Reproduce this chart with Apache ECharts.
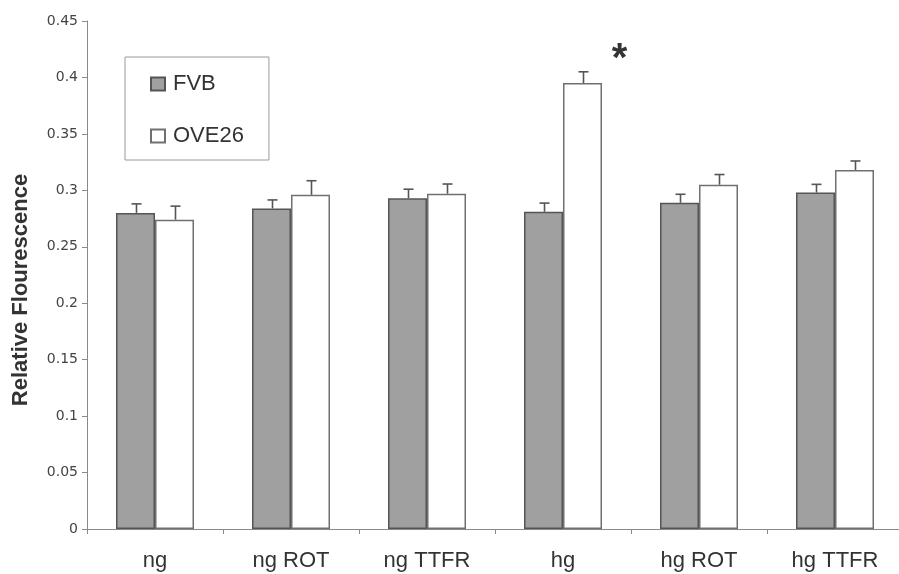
<!DOCTYPE html>
<html>
<head>
<meta charset="utf-8">
<script src="https://cdn.jsdelivr.net/npm/echarts@6/dist/echarts.min.js"></script>
<style>
  html, body { margin: 0; padding: 0; background: #fff; overflow: hidden; }
  #chart { width: 904px; height: 574px; }
</style>
</head>
<body>
<div id="chart"></div>
<script>
// Treatment groups on the x axis
const categories = ['ng', 'ng ROT', 'ng TTFR', 'hg', 'hg ROT', 'hg TTFR'];

// Mean relative fluorescence per group
const fvbMean   = [0.280, 0.284, 0.293, 0.281, 0.289, 0.298];
const ove26Mean = [0.274, 0.296, 0.297, 0.395, 0.305, 0.318];

// Upper error (SEM) per group
const fvbErr   = [0.008, 0.0075, 0.008, 0.0077, 0.0075, 0.0073];
const ove26Err = [0.012, 0.0125, 0.0086, 0.010, 0.009, 0.008];

// Group flagged as significant
const significantIndex = 3;

const yTicks = { min: 0, max: 0.45, step: 0.05 };

const BAR_W = 39;
const font = 'Arial, "Liberation Sans", sans-serif';
const tickFont = '"DejaVu Sans", Arial, sans-serif';

// Upper-only error whisker with a short cap, offset to sit on its bar
function errorSeries(name, means, errs, side) {
  return {
    type: 'custom',
    name: name + ' err',
    silent: true,
    z: 3,
    data: means.map((m, i) => [i, m, m + errs[i]]),
    renderItem: function (params, api) {
      const i = api.value(0);
      const base = api.coord([i, api.value(1)]);
      const top = api.coord([i, api.value(2)]);
      const x = Math.round(base[0] + side * BAR_W / 2) + 0.5;
      const cap = 5;
      const st = { stroke: '#555', lineWidth: 1.6 };
      return {
        type: 'group',
        children: [
          { type: 'line', shape: { x1: x, y1: base[1], x2: x, y2: top[1] }, style: st },
          { type: 'line', shape: { x1: x - cap, y1: top[1], x2: x + cap, y2: top[1] }, style: st }
        ]
      };
    }
  };
}

const chart = echarts.init(document.getElementById('chart'));

chart.setOption({
  animation: false,
  backgroundColor: '#fff',
  textStyle: { fontFamily: font },
  grid: { left: 87, top: 21, width: 816, height: 508, containLabel: false },
  legend: {
    orient: 'vertical',
    left: 125,
    top: 57,
    padding: [16, 25, 13, 25],
    itemGap: 30,
    itemWidth: 14,
    itemHeight: 13,
    icon: 'rect',
    borderColor: '#9a9a9a',
    borderWidth: 1,
    borderRadius: 0,
    textStyle: { fontSize: 22, color: '#333', fontFamily: font, padding: [0, 0, 0, 3] },
    data: ['FVB', 'OVE26']
  },
  xAxis: {
    type: 'category',
    data: categories,
    axisLine: { lineStyle: { color: '#8a8a8a', width: 1 } },
    axisTick: { show: true, length: 5, lineStyle: { color: '#8a8a8a' } },
    axisLabel: { fontSize: 22, color: '#333', margin: 21, fontFamily: font }
  },
  yAxis: {
    type: 'value',
    min: yTicks.min,
    max: yTicks.max,
    interval: yTicks.step,
    name: 'Relative Flourescence',
    nameLocation: 'middle',
    nameRotate: 90,
    nameGap: 55,
    nameTextStyle: {
      fontSize: 22, fontWeight: 'bold', color: '#333', fontFamily: font,
      padding: [0, 30, 0, 0]
    },
    axisLine: { show: true, lineStyle: { color: '#8a8a8a', width: 1 } },
    axisTick: { show: true, length: 5, lineStyle: { color: '#8a8a8a' } },
    axisLabel: { fontSize: 14, color: '#444', margin: 9, fontFamily: tickFont },
    splitLine: { show: false }
  },
  series: [
    {
      name: 'FVB',
      type: 'bar',
      barWidth: BAR_W,
      barGap: '0%',
      itemStyle: { color: '#a0a0a0', borderColor: '#555', borderWidth: 1.5 },
      data: fvbMean
    },
    {
      name: 'OVE26',
      type: 'bar',
      barWidth: BAR_W,
      barGap: '0%',
      itemStyle: { color: '#ffffff', borderColor: '#707070', borderWidth: 1.5 },
      data: ove26Mean.map((v, i) => i === significantIndex ? {
        value: v,
        label: {
          show: true,
          position: 'top',
          formatter: '*',
          fontSize: 40,
          fontWeight: 'bold',
          color: '#333',
          offset: [37, 2]
        }
      } : v)
    },
    errorSeries('FVB', fvbMean, fvbErr, -1),
    errorSeries('OVE26', ove26Mean, ove26Err, 1)
  ]
});
</script>
</body>
</html>
